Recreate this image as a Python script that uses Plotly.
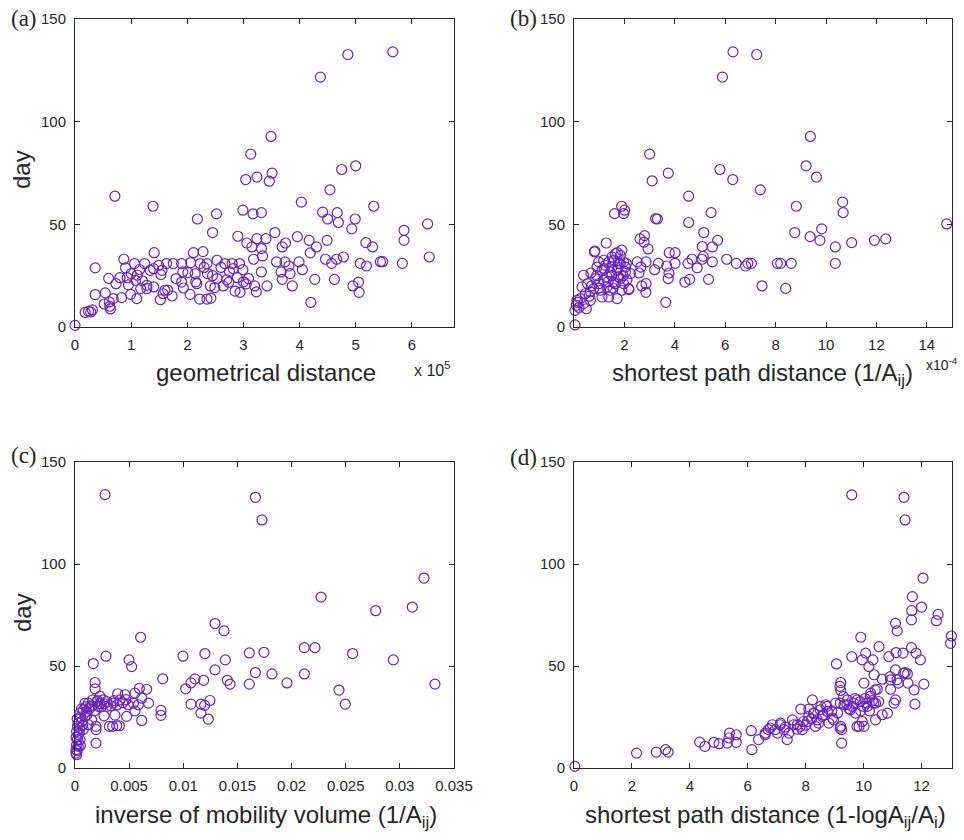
import plotly.graph_objects as go

# ---------------- data ----------------
# (a) geometrical distance (x 1e5) vs day
panel_a_points = [
    (5.66,134),(4.86,132.7),(4.37,121.7),(3.49,92.8),(3.13,84.2),(5.0,78.5),(4.75,76.7),(3.51,74.9),
    (3.24,73),(3.04,71.8),(3.46,71),(4.54,66.8),(6.76,65),(0.71,63.7),(4.03,60.8),(1.39,58.8),(5.32,58.8),
    (2.99,56.9),(2.52,55.1),(3.17,55.1),(3.32,55.7),(4.41,55.9),(4.67,55.7),(2.18,52.6),(4.5,52.6),
    (4.69,50.9),(4.99,52.6),(6.28,50.2),(2.45,46),(3.56,46),(4.93,47.8),(5.86,47.1),(2.9,44.2),(3.96,44),
    (3.24,43),(3.4,43),(3.06,40.9),(3.75,40.9),(4.17,42.2),(4.49,42.2),(5.86,42.2),(5.18,41.1),(3.15,39),
    (3.32,38.2),(3.69,39),(4.3,39),(5.3,39),(1.41,36.2),(2.11,36.2),(2.28,36.7),(3.34,34.6),(4.19,36.1),
    (6.31,34.1),(4.78,34.1),(0.87,33),(4.46,33),(4.66,33),(3.18,33),(3.59,31.7),(3.74,31.7),(3.99,31.7),
    (5.44,31.8),(5.48,31.8),(5.83,31),(5.08,31),(4.57,31),(5.19,29.7),(3.81,29.7),(0.36,28.8),(0.9,28.8),
    (1.06,30.9),(1.24,30.9),(1.4,28.4),(1.49,30),(1.63,30.9),(1.75,30.9),(1.9,30.9),(2.06,31.4),(2.23,30.9),
    (2.35,30.9),(2.53,32.5),(2.67,30.9),(2.8,30.9),(2.93,30.9),(2.82,28.4),(2.99,27.9),(3.32,26.8),(4.05,27.9),
    (3.83,26),(3.09,23.6),(4.27,23.2),(4.62,23.2),(5.05,21.9),(4.95,20),(5.06,16.9),(4.2,12),(3.87,20),
    (3.42,20),(3.2,20),(2.94,16.9),(2.85,17.5),(3.23,17.1),(3.69,23.2),(3.67,26.8),(2.64,20),(2.74,21.8),
    (2.53,23.6),(2.36,26),(2.41,20),(2.49,19.2),(2.22,13.6),(2.35,13.6),(2.42,14.1),(2.05,15.9),(2.17,21.1),
    (2.14,26),(2.01,26.5),(1.93,19),(1.8,23.6),(1.9,21.9),(1.92,26.8),(1.73,15.1),(1.6,17.9),(1.57,16.2),
    (1.52,13.3),(1.53,25.5),(1.55,27.6),(1.4,19.5),(1.28,18.7),(1.17,18.7),(1.1,13.8),(1.08,22.7),(0.99,15.9),
    (0.93,24),(1.11,25.2),(0.83,14.3),(0.68,13.8),(0.73,21.1),(0.8,24),(0.6,23.7),(0.54,16.6),(0.36,15.8),
    (0.52,11.2),(0.62,10.1),(0.61,12.2),(0.63,8.8),(0.31,8.3),(0.24,7.6),(0.18,7.1),(0.28,7.3),(0.0,0.8),
    (1.34,27.6),(1.28,20.3),(2.89,24),(1.2,22.5),(1.65,18),(2.6,29),(2.75,27),(3.0,22),(3.05,21),(2.3,29),
    (2.45,25),(1.0,26),(1.15,28),(0.95,20.5),(2.15,22),(2.7,23),
]

# (b) shortest path distance 1/Aij (x 1e-4) vs day
panel_b_points = [
    (6.31,134),(7.25,132.7),(5.89,121.7),(9.38,92.8),(3.0,84.2),(9.21,78.5),(5.79,76.7),(3.74,74.9),
    (9.62,73),(3.1,71.2),(6.3,71.8),(7.39,66.8),(4.55,63.7),(10.66,60.8),(8.82,58.8),(1.89,58.8),(2.01,56.9),
    (1.97,55.2),(1.61,55.2),(5.44,55.7),(10.68,55.7),(3.24,52.8),(3.31,52.6),(4.55,50.9),(14.79,50.2),
    (5.15,46),(8.76,46),(9.83,47.8),(2.8,44.5),(2.62,42.9),(5.7,42.2),(9.37,44),(9.76,42.2),(11.92,42.2),
    (12.37,42.9),(11.02,41.1),(1.28,40.9),(2.78,41.3),(5.09,39.2),(5.49,39),(10.37,39),(2.94,38),(0.83,37),
    (1.72,36.2),(3.78,36.2),(4.01,36.2),(2.51,31.7),(2.86,31.7),(3.35,31),(3.68,29.7),(4.01,31),(4.52,31),
    (4.68,33),(5.08,33),(5.13,34.4),(5.49,31.7),(6.06,33),(6.44,31),(6.81,29.7),(6.9,31),(7.04,31),(8.07,31),
    (8.2,31),(8.62,31),(10.37,31),(3.2,27.9),(3.77,26.3),(3.74,23.6),(4.89,28.8),(4.4,21.9),(4.59,23.2),
    (5.34,23.2),(7.46,20),(8.4,18.8),(3.64,12),(2.86,21.1),(2.69,20),(2.85,16.9),(2.18,18.2),(2.58,26.3),
    (2.65,29.2),(2.08,30.9),(1.79,30.9),
    (0.04,1),(0.04,8.1),(0.09,10.6),(0.12,13),(0.25,13.8),(0.45,16.2),(0.49,8.9),(0.65,17.1),(0.78,18.7),
    (0.54,21.1),(0.98,21.1),(0.67,26.3),(0.81,36.6),(0.91,29.2),(1.11,27.6),(1.24,30),(1.38,31.7),(1.51,34.1),
    (1.64,35.7),(1.71,27.6),(1.84,30.9),(1.97,31.7),(1.77,24.4),(1.57,21.9),(1.31,19.5),(1.11,14.6),(1.44,17.9),
    (1.71,13.8),(1.97,21.1),(2.17,18.7),(2.24,26),(2.04,26.8),(1.44,26.8),(1.18,22.7),(0.85,23.6),(1.04,17.9),
    (0.65,13),(0.38,11.4),(0.32,19.5),(1.31,24.4),(1.51,29.2),(1.84,34.9),(1.9,17.9),(1.38,14.6),(1.64,21.1),
    (1.84,23.6),(1.18,32.5),(0.98,31.7),(2.04,29.2),(1.9,37.4),(0.38,25.2),(0.6,15),(0.9,25),(1.0,19),
    (1.2,28.5),(1.5,25),(1.6,32.5),(1.75,29),(1.95,25),(2.1,23),(0.7,20),(1.35,22),(1.55,19),(0.2,9.5),(0.15,12),
]

# (c) inverse of mobility volume 1/Aij vs day
panel_c_points = [
    (0.00277,134),(0.01666,132.7),(0.01727,121.6),(0.03223,93.1),(0.02272,83.8),(0.03115,78.9),(0.02777,77.1),
    (0.01293,70.8),(0.01376,67.2),(0.00606,64.1),(0.02118,59),(0.02216,59),(0.0161,56.4),(0.01745,56.7),
    (0.012,56.1),(0.02564,56.1),(0.00286,54.8),(0.00997,54.8),(0.00499,53),(0.01388,53),(0.0294,53),
    (0.00169,51.2),(0.00523,49.7),(0.01293,48.1),(0.01666,46.8),(0.01819,46.1),(0.02118,46.1),(0.0081,43.7),
    (0.01108,43.7),(0.01188,43),(0.01407,43),(0.01071,41.7),(0.01432,41.1),(0.0161,41.1),(0.01958,41.7),
    (0.03324,41.1),(0.01022,38.8),(0.02438,38.2),(0.00185,41.9),(0.00185,38.8),(0.01071,31.3),(0.01163,31.3),
    (0.01197,30.7),(0.01246,33.1),(0.01163,26.9),(0.01231,24),(0.02496,31.3),(0.00794,28.2),(0.00794,25.8),
    (0.0068,31.8),(0.00662,38.6),(0.00594,39),(0.00554,36.7),(0.00616,34.2),(0.00539,31.8),(0.00462,35.9),
    (0.00394,36.4),(0.00354,31.8),(0.00416,33.4),(0.00292,32.6),(0.00231,31.5),(0.00554,28),(0.00616,23.3),
    (0.00477,25.3),(0.00369,25.9),(0.00385,20.7),(0.0041,20.7),(0.00317,20.4),(0.00348,20.4),(0.00268,25.6),
    (0.00194,20.4),(0.00194,18.8),(0.00194,12.2),(0.00215,30.2),(0.00139,30.2),(0.00108,27.7),(0.00092,25.3),
    (0.00062,22.8),(0.00046,19.6),(0.00031,16.3),(0.00022,13.9),(0.00015,11.4),(0.00009,9),(0.00009,7.3),
    (0.00015,6.5),(0.00046,26.9),(0.00077,28.5),(0.00123,31.8),(0.00092,31.8),(0.00163,33.4),(0.00231,35.1),
    (0.00154,23.6),(0.00123,21.2),(0.00077,18.8),(0.0004,17.1),(0.00022,20.4),(0.00015,17.9),(0.00046,13.9),
    (0.00031,10.6),(0.00292,30.2),(0.00262,33.4),(0.002,32.6),(0.00492,31),(0.00585,31),
    (0.0001,15),(0.0002,24),(0.0003,22),(0.0005,25),(0.0006,29),(0.0007,21),(0.001,30),(0.0011,26),
    (0.0013,29),(0.0016,30.5),(0.0018,28),(0.0021,33),(0.0024,30),(0.0027,31.5),(0.0033,30.5),(0.0036,33),
    (0.0039,31),(0.0044,32),(0.0047,33.5),(0.0005,11),(0.0002,8.5),
]

# (d) shortest path distance 1-logAij/Ai vs day
panel_d_points = [
    (0.03,0.8),(2.16,7.3),(2.84,7.8),(3.16,9),(3.25,7.8),(4.34,12.7),(4.52,10.6),(4.83,12.6),(5.01,11.9),
    (5.29,12.2),(5.37,17.1),(5.35,14.7),(5.6,16.3),(5.6,12.6),(6.12,18.3),(6.14,9),(6.37,13.9),(6.6,16.3),
    (6.71,18.8),(6.85,21.2),(7.02,17.1),(7.13,22),(7.25,18.8),(7.36,13.9),(7.42,17.1),(7.54,23.6),(7.71,21.2),
    (7.83,28.9),(7.88,18.8),(8.06,22.8),(8.11,28.9),(8.23,33.4),(8.29,26.9),(8.34,20.4),(8.4,23.6),(8.52,30.2),
    (8.57,25.3),(8.69,31),(8.75,27.7),(8.8,22),(8.92,24.5),(9.03,31.8),(9.06,51),(9.21,41.9),(9.18,40),
    (9.21,38),(9.24,12.2),(9.24,18.8),(9.21,20.4),(9.32,31),(9.44,33.4),(9.59,54.6),(9.59,133.9),(9.61,30.2),
    (9.72,26.9),(9.78,33.4),(9.9,64.1),(9.95,53),(10.01,41.6),(10.07,56.3),(9.84,20.4),(10.01,20.4),(9.95,22.8),
    (10.13,30.2),(10.18,49.7),(10.24,36.7),(10.32,53),(10.36,45.7),(10.41,31.8),(10.41,23.6),(10.47,38.6),
    (10.53,59.5),(10.64,43.5),(10.64,26.1),(10.82,26.9),(10.87,54.6),(10.93,43.2),(10.93,38.6),(11.05,31.8),
    (11.1,33.4),(11.1,70.9),(11.16,67.2),(11.1,48.1),(11.12,56.6),(11.2,41.6),(11.36,56.3),(11.39,132.7),
    (11.43,121.6),(11.43,46.8),(11.51,46.1),(11.53,41.6),(11.65,59),(11.65,72.6),(11.66,77.1),(11.68,84),
    (11.74,38.3),(11.77,31.3),(11.81,56.3),(11.96,53),(12.0,78.9),(12.05,93.1),(12.08,41.1),(12.51,72.2),
    (12.57,75.3),(13.03,64.7),(13.0,61.1),
    (9.19,31.8),(9.42,31),(9.65,31.8),(9.88,32.6),(10.11,31.8),(10.35,31.8),(10.52,32.6),(9.54,28.5),(10.0,30.2),
    (9.77,20.4),(8.73,30.2),(8.5,28.5),(8.27,26.9),(8.1,25.3),(7.92,22.8),(7.81,20.4),(7.58,21.2),(7.12,21.2),
    (6.95,18.8),(6.78,19.6),(6.6,17.1),(8.96,23.6),(9.19,19.6),(10.23,35.1),(10.4,38.3),(10.92,44.8),
    (11.15,43.2),(11.38,46.5),(9.3,35),(9.5,29),(9.7,34),(9.9,28),(10.05,34),(10.2,28),(10.3,33),(8.9,28),
    (8.6,26),(8.45,22),(8.2,24),(8.0,21),(7.7,19),(7.3,20),(9.1,27),
]

y_ticks = [0, 50, 100, 150]
a_xticks = [0, 1, 2, 3, 4, 5, 6]
b_xticks = [2, 4, 6, 8, 10, 12, 14]
c_xticks = [0, 0.005, 0.01, 0.015, 0.02, 0.025, 0.03, 0.035]
c_xticklabels = ["0", "0.005", "0.01", "0.015", "0.02", "0.025", "0.03", "0.035"]
d_xticks = [0, 2, 4, 6, 8, 10, 12]

# ---------------- figure ----------------
W, H = 964, 840
MARK = "#6a22bd"
INK = "#262626"
SANS = "Liberation Sans, Arial, Helvetica, sans-serif"
SERIF = "Liberation Serif, Times New Roman, serif"

def px(x):
    return x / W

def py(y):
    return 1 - y / H

fig = go.Figure()
panels = [panel_a_points, panel_b_points, panel_c_points, panel_d_points]
for i, pts in enumerate(panels):
    xs = [p[0] for p in pts]
    ys = [p[1] for p in pts]
    sfx = "" if i == 0 else str(i + 1)
    fig.add_trace(go.Scatter(
        x=xs, y=ys, mode="markers", xaxis="x" + sfx, yaxis="y" + sfx,
        marker=dict(symbol="circle-open", size=10, color=MARK, line=dict(width=1.2, color=MARK)),
        cliponaxis=False, showlegend=False, hoverinfo="skip"))

left_dom = [px(75), px(454)]
right_dom = [px(574), px(952)]
top_dom = [py(327), py(19)]
bot_dom = [py(768), py(462)]

def xax(dom, anchor, rng, tv, tt=None):
    d = dict(domain=dom, anchor=anchor, range=rng, tickvals=tv, showgrid=False, zeroline=False,
             showline=True, linecolor=INK, linewidth=1, mirror="ticks", ticks="inside", ticklen=5,
             tickcolor=INK, tickwidth=1, tickfont=dict(family=SANS, size=15, color=INK),
             ticklabelstandoff=4, automargin=False)
    if tt is not None:
        d["ticktext"] = tt
    return d

def yax(dom, anchor):
    return dict(domain=dom, anchor=anchor, range=[0, 150], tickvals=y_ticks, showgrid=False,
                zeroline=False, showline=True, linecolor=INK, linewidth=1, mirror="ticks",
                ticks="inside", ticklen=5, tickcolor=INK, tickwidth=1,
                tickfont=dict(family=SANS, size=15, color=INK), ticklabelstandoff=5,
                automargin=False)

fig.update_layout(
    width=W, height=H, margin=dict(l=0, r=0, t=0, b=0, autoexpand=False),
    paper_bgcolor="white", plot_bgcolor="white",
    xaxis=xax(left_dom, "y", [0, 6.75], a_xticks),
    yaxis=yax(top_dom, "x"),
    xaxis2=xax(right_dom, "y2", [0, 15], b_xticks),
    yaxis2=yax(top_dom, "x2"),
    xaxis3=xax(left_dom, "y3", [0, 0.035], c_xticks, c_xticklabels),
    yaxis3=yax(bot_dom, "x3"),
    xaxis4=xax(right_dom, "y4", [0, 13.05], d_xticks),
    yaxis4=yax(bot_dom, "x4"),
)

def ann(text, x, y, size, family=SANS, xanchor="center", yanchor="middle", angle=0):
    fig.add_annotation(text=text, x=px(x), y=py(y), xref="paper", yref="paper",
                       showarrow=False, xanchor=xanchor, yanchor=yanchor, textangle=angle,
                       font=dict(family=family, size=size, color=INK))

# panel letters
ann("(a)", 24, 18, 23, SERIF)
ann("(b)", 523, 18, 23, SERIF)
ann("(c)", 24, 456, 23, SERIF)
ann("(d)", 523, 458, 23, SERIF)
# y titles
ann("day", 22, 170, 24, angle=-90)
ann("day", 22, 613, 24, angle=-90)
# x titles
ann("geometrical distance", 266, 372, 24)
ann("x 10<sup>5</sup>", 432, 369, 16)
ann("shortest path distance (1/A<sub>ij</sub>)", 762, 374, 24)
ann("x10<sup>-4</sup>", 924, 364, 14, xanchor="left")
ann("inverse of mobility volume (1/A<sub>ij</sub>)", 266, 816, 24)
ann("shortest path distance (1-logA<sub>ij</sub>/A<sub>i</sub>)", 765, 816, 24)

fig.write_html("out.html", config={"displayModeBar": False},
               post_script="document.body.style.margin='0px';document.body.style.padding='0px';")
